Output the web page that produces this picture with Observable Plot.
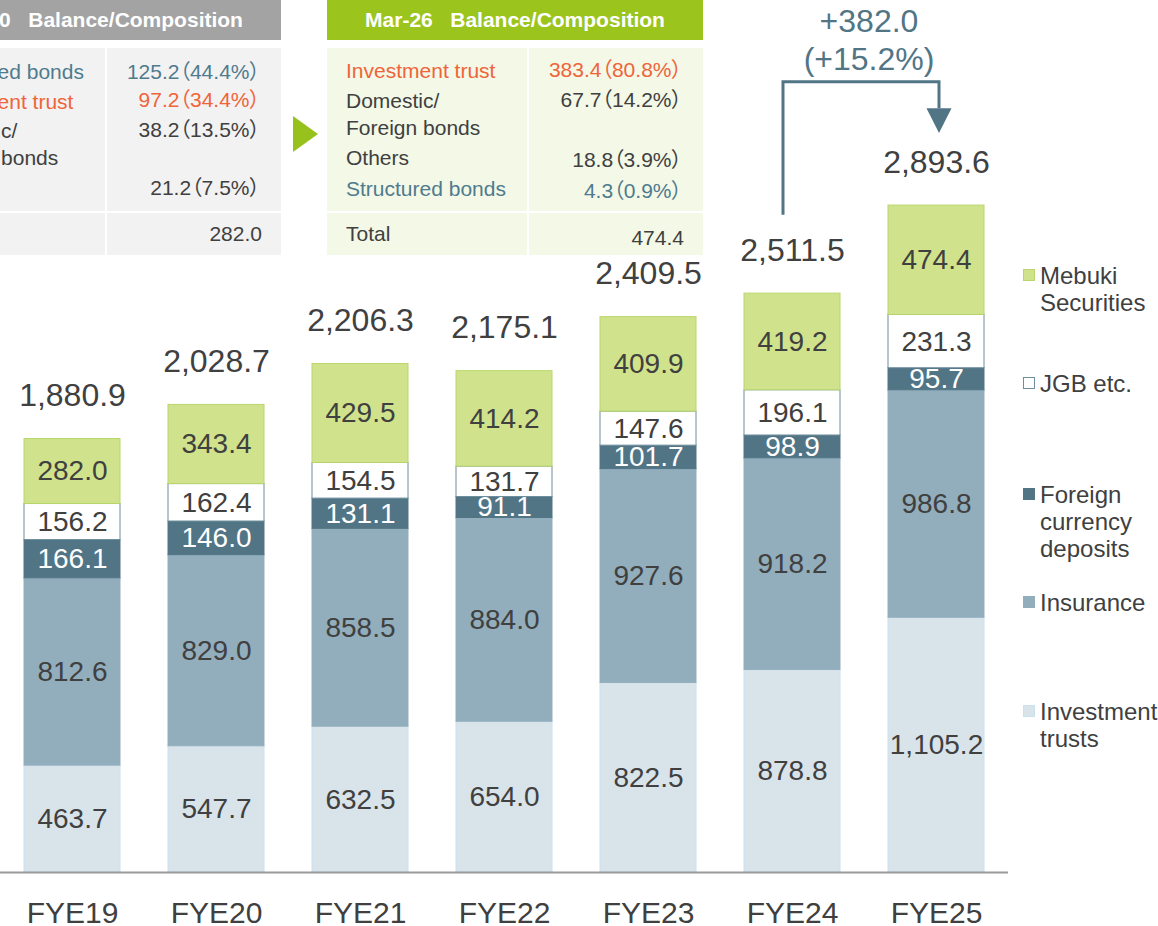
<!DOCTYPE html>
<html>
<head>
<meta charset="utf-8">
<script src="https://cdn.jsdelivr.net/npm/d3@7"></script>
<script src="https://cdn.jsdelivr.net/npm/@observablehq/plot@0.6"></script>
<style>
html, body { margin:0; padding:0; background:#fff; overflow:hidden; }
#wrap { position:relative; width:1158px; height:926px; overflow:hidden; font-family:"Liberation Sans", Arial, "Noto Sans CJK JP", sans-serif; color:#404040; }
#wrap svg { position:absolute; left:0; top:0; }
.hdr { position:absolute; top:0; height:40px; color:#fff; font-weight:bold; font-size:21px; line-height:40px; text-align:center; white-space:pre; }
.cell { position:absolute; }
.t { position:absolute; font-size:21px; line-height:27px; white-space:nowrap; }
.v { font-feature-settings: "palt"; }
.lg { position:absolute; left:1040px; font-size:24px; line-height:27px; white-space:nowrap; color:#404040; }
.sw { position:absolute; left:1023px; width:12px; height:12px; box-sizing:border-box; }
</style>
</head>
<body>
<div id="wrap"></div>
<script>
// ---------------- data ----------------
const years = ["FYE19", "FYE20", "FYE21", "FYE22", "FYE23", "FYE24", "FYE25"];
const series = ["Investment trusts", "Insurance", "Foreign currency deposits", "JGB etc.", "Mebuki Securities"];
const investmentTrusts = [463.7, 547.7, 632.5, 654.0, 822.5, 878.8, 1105.2];
const insurance = [812.6, 829.0, 858.5, 884.0, 927.6, 918.2, 986.8];
const foreignCurrencyDeposits = [166.1, 146.0, 131.1, 91.1, 101.7, 98.9, 95.7];
const jgbEtc = [156.2, 162.4, 154.5, 131.7, 147.6, 196.1, 231.3];
const mebukiSecurities = [282.0, 343.4, 429.5, 414.2, 409.9, 419.2, 474.4];
const totals = [1880.9, 2028.7, 2206.3, 2175.1, 2409.5, 2511.5, 2893.6];
const changeLabels = ["+382.0", "(+15.2%)"];

// Mar-20 composition table (left, partly cut off)
const mar20Header = "Mar-20   Balance/Composition";
const mar20Labels = ["Structured bonds", "Investment trust", "Domestic/\nForeign bonds", "Others"];
const mar20Values = [125.2, 97.2, 38.2, 21.2];
const mar20Shares = [44.4, 34.4, 13.5, 7.5];
const mar20Total = 282.0;

// Mar-26 composition table
const mar26Header = "Mar-26   Balance/Composition";
const mar26Labels = ["Investment trust", "Domestic/\nForeign bonds", "Others", "Structured bonds"];
const mar26Values = [383.4, 67.7, 18.8, 4.3];
const mar26Shares = [80.8, 14.2, 3.9, 0.9];
const mar26Total = 474.4;

const legendLabels = [["Mebuki", "Securities"], ["JGB etc."], ["Foreign", "currency", "deposits"], ["Insurance"], ["Investment", "trusts"]];
const legendSeries = ["Mebuki Securities", "JGB etc.", "Foreign currency deposits", "Insurance", "Investment trusts"];

// ---------------- styles ----------------
const fills = {
  "Investment trusts": "#d9e3ea",
  "Insurance": "#92aebc",
  "Foreign currency deposits": "#527586",
  "JGB etc.": "#ffffff",
  "Mebuki Securities": "#d0e38c"
};
const strokes = {
  "Investment trusts": "#c9e2f0",
  "Insurance": "#92aebc",
  "Foreign currency deposits": "#527586",
  "JGB etc.": "#6d8e9c",
  "Mebuki Securities": "#b9d66c"
};
const labelColors = {"Investment trust": "#f0643a", "Structured bonds": "#4f7b8e"};

const valuesBySeries = [investmentTrusts, insurance, foreignCurrencyDeposits, jgbEtc, mebukiSecurities];
const rows = [];
series.forEach((s, si) => years.forEach((y, i) => rows.push({year: y, series: s, value: valuesBySeries[si][i]})));
const totalRows = years.map((y, i) => ({year: y, total: totals[i]}));
const fmt = d3.format(",.1f");

// arrow annotation anchors (data units, relative to totals)
const arrowStart = totals[5] + 340;
const arrowTop = totals[6] + 535;
const arrowBase = totals[6] + 420;
const arrowTip = totals[6] + 312;

function changeArrow(index, scales) {
  const sx = scales.x, sy = scales.y;
  const bw = typeof sx.bandwidth === "function" ? sx.bandwidth() : 0;
  const xa = sx(years[5]) + bw / 2 - 9;
  const xb = sx(years[6]) + bw / 2 + 3;
  const g = d3.create("svg:g");
  g.append("path")
    .attr("d", `M${xa},${sy(arrowStart)}V${sy(arrowTop)}H${xb}V${sy(arrowBase)}`)
    .attr("fill", "none").attr("stroke", "#527586").attr("stroke-width", 3);
  g.append("path")
    .attr("d", `M${xb - 12.5},${sy(arrowBase)}L${xb + 12.5},${sy(arrowBase)}L${xb},${sy(arrowTip)}Z`)
    .attr("fill", "#527586");
  const xm = (sx(years[5]) + sx(years[6])) / 2 + bw / 2 + 5;
  changeLabels.forEach((t, i) => {
    g.append("text").attr("x", xm).attr("y", sy(arrowTop) - 61 + i * 38)
      .attr("text-anchor", "middle").attr("dominant-baseline", "central")
      .attr("font-size", 32).attr("fill", "#527586").text(t);
  });
  return g.node();
}

const chart = Plot.plot({
  width: 1158,
  height: 926,
  marginLeft: 0,
  marginRight: 150,
  marginTop: 0,
  marginBottom: 54,
  style: {fontFamily: "'Liberation Sans', Arial, sans-serif", background: "transparent", overflow: "visible"},
  x: {domain: years, paddingInner: 1 / 3, paddingOuter: 1 / 6, align: 0.5, label: null},
  y: {domain: [0, 3783], axis: null},
  color: {type: "identity"},
  marks: [
    Plot.barY(rows, Plot.stackY({
      x: "year", y: "value",
      fill: d => fills[d.series], stroke: d => strokes[d.series], strokeWidth: 1
    })),
    Plot.ruleY([0], {stroke: "#9a9a9a", strokeWidth: 2}),
    Plot.text(rows, Plot.stackY({
      x: "year", y: "value",
      text: d => fmt(d.value),
      fill: d => d.series === "Foreign currency deposits" ? "#ffffff" : "#404040",
      fontSize: 28
    })),
    Plot.text(totalRows, {x: "year", y: "total", text: d => fmt(d.total), dy: -43, fontSize: 32, fill: "#404040"}),
    Plot.axisX({tickSize: 0, tickPadding: 29, fontSize: 30, color: "#404040", label: null}),
    changeArrow
  ]
});

const wrap = document.getElementById("wrap");
wrap.appendChild(chart);

// ---------------- composition tables ----------------
function addDiv(html, css, cls) {
  const d = document.createElement("div");
  if (cls) d.className = cls;
  d.innerHTML = html;
  Object.assign(d.style, css);
  wrap.appendChild(d);
  return d;
}
function valueText(v, s) { return `${v.toFixed(1)}（${s.toFixed(1)}%）`; }

function buildTable(cfg) {
  const L = cfg.left;
  addDiv(cfg.header, {left: L + "px", width: "376px", background: cfg.headerColor}, "hdr");
  addDiv("", {left: L + "px", top: "48px", width: "200px", height: "163px", background: cfg.bodyColor}, "cell");
  addDiv("", {left: (L + 202) + "px", top: "48px", width: "174px", height: "163px", background: cfg.bodyColor}, "cell");
  addDiv("", {left: L + "px", top: "213px", width: "200px", height: "42px", background: cfg.bodyColor}, "cell");
  addDiv("", {left: (L + 202) + "px", top: "213px", width: "174px", height: "42px", background: cfg.bodyColor}, "cell");
  cfg.labels.forEach((lab, i) => {
    const col = labelColors[lab] || "#404040";
    addDiv(lab.split("\n").join("<br>"), {left: (L + 19) + "px", top: (cfg.labelY[i] - 13.5) + "px", color: col}, "t");
    addDiv(valueText(cfg.values[i], cfg.shares[i]),
      {left: (L + 150) + "px", width: "205px", textAlign: "right", top: (cfg.valueY[i] - 13.5) + "px", color: col}, "t v");
  });
  addDiv("Total", {left: (L + 19) + "px", top: (cfg.totalLabelY - 13.5) + "px"}, "t");
  addDiv(cfg.total.toFixed(1), {left: (L + 150) + "px", width: "207px", textAlign: "right", top: (cfg.totalValueY - 13.5) + "px"}, "t");
}

buildTable({
  left: -95, header: mar20Header, headerColor: "#a3a3a3", bodyColor: "#f2f2f2",
  labels: mar20Labels, values: mar20Values, shares: mar20Shares, total: mar20Total,
  labelY: [71, 101, 130, 186], valueY: [71, 99, 129, 187], totalLabelY: 233, totalValueY: 233
});
buildTable({
  left: 327, header: mar26Header, headerColor: "#9bc41d", bodyColor: "#f3f8e7",
  labels: mar26Labels, values: mar26Values, shares: mar26Shares, total: mar26Total,
  labelY: [70, 100, 157, 188], valueY: [69, 99, 159, 190], totalLabelY: 233, totalValueY: 237
});

// green arrow between tables
addDiv("", {position: "absolute", left: "293px", top: "116px", width: "0", height: "0",
  borderTop: "18px solid transparent", borderBottom: "18px solid transparent", borderLeft: "25px solid #97c21e"});

// ---------------- legend ----------------
const legendY = [275, 383, 494, 602, 711];
legendSeries.forEach((s, i) => {
  addDiv("", {top: (legendY[i] - 6) + "px", background: fills[s], border: "1px solid " + strokes[s]}, "sw");
  addDiv(legendLabels[i].join("<br>"), {top: (legendY[i] - 13.5) + "px"}, "lg");
});
</script>
</body>
</html>
